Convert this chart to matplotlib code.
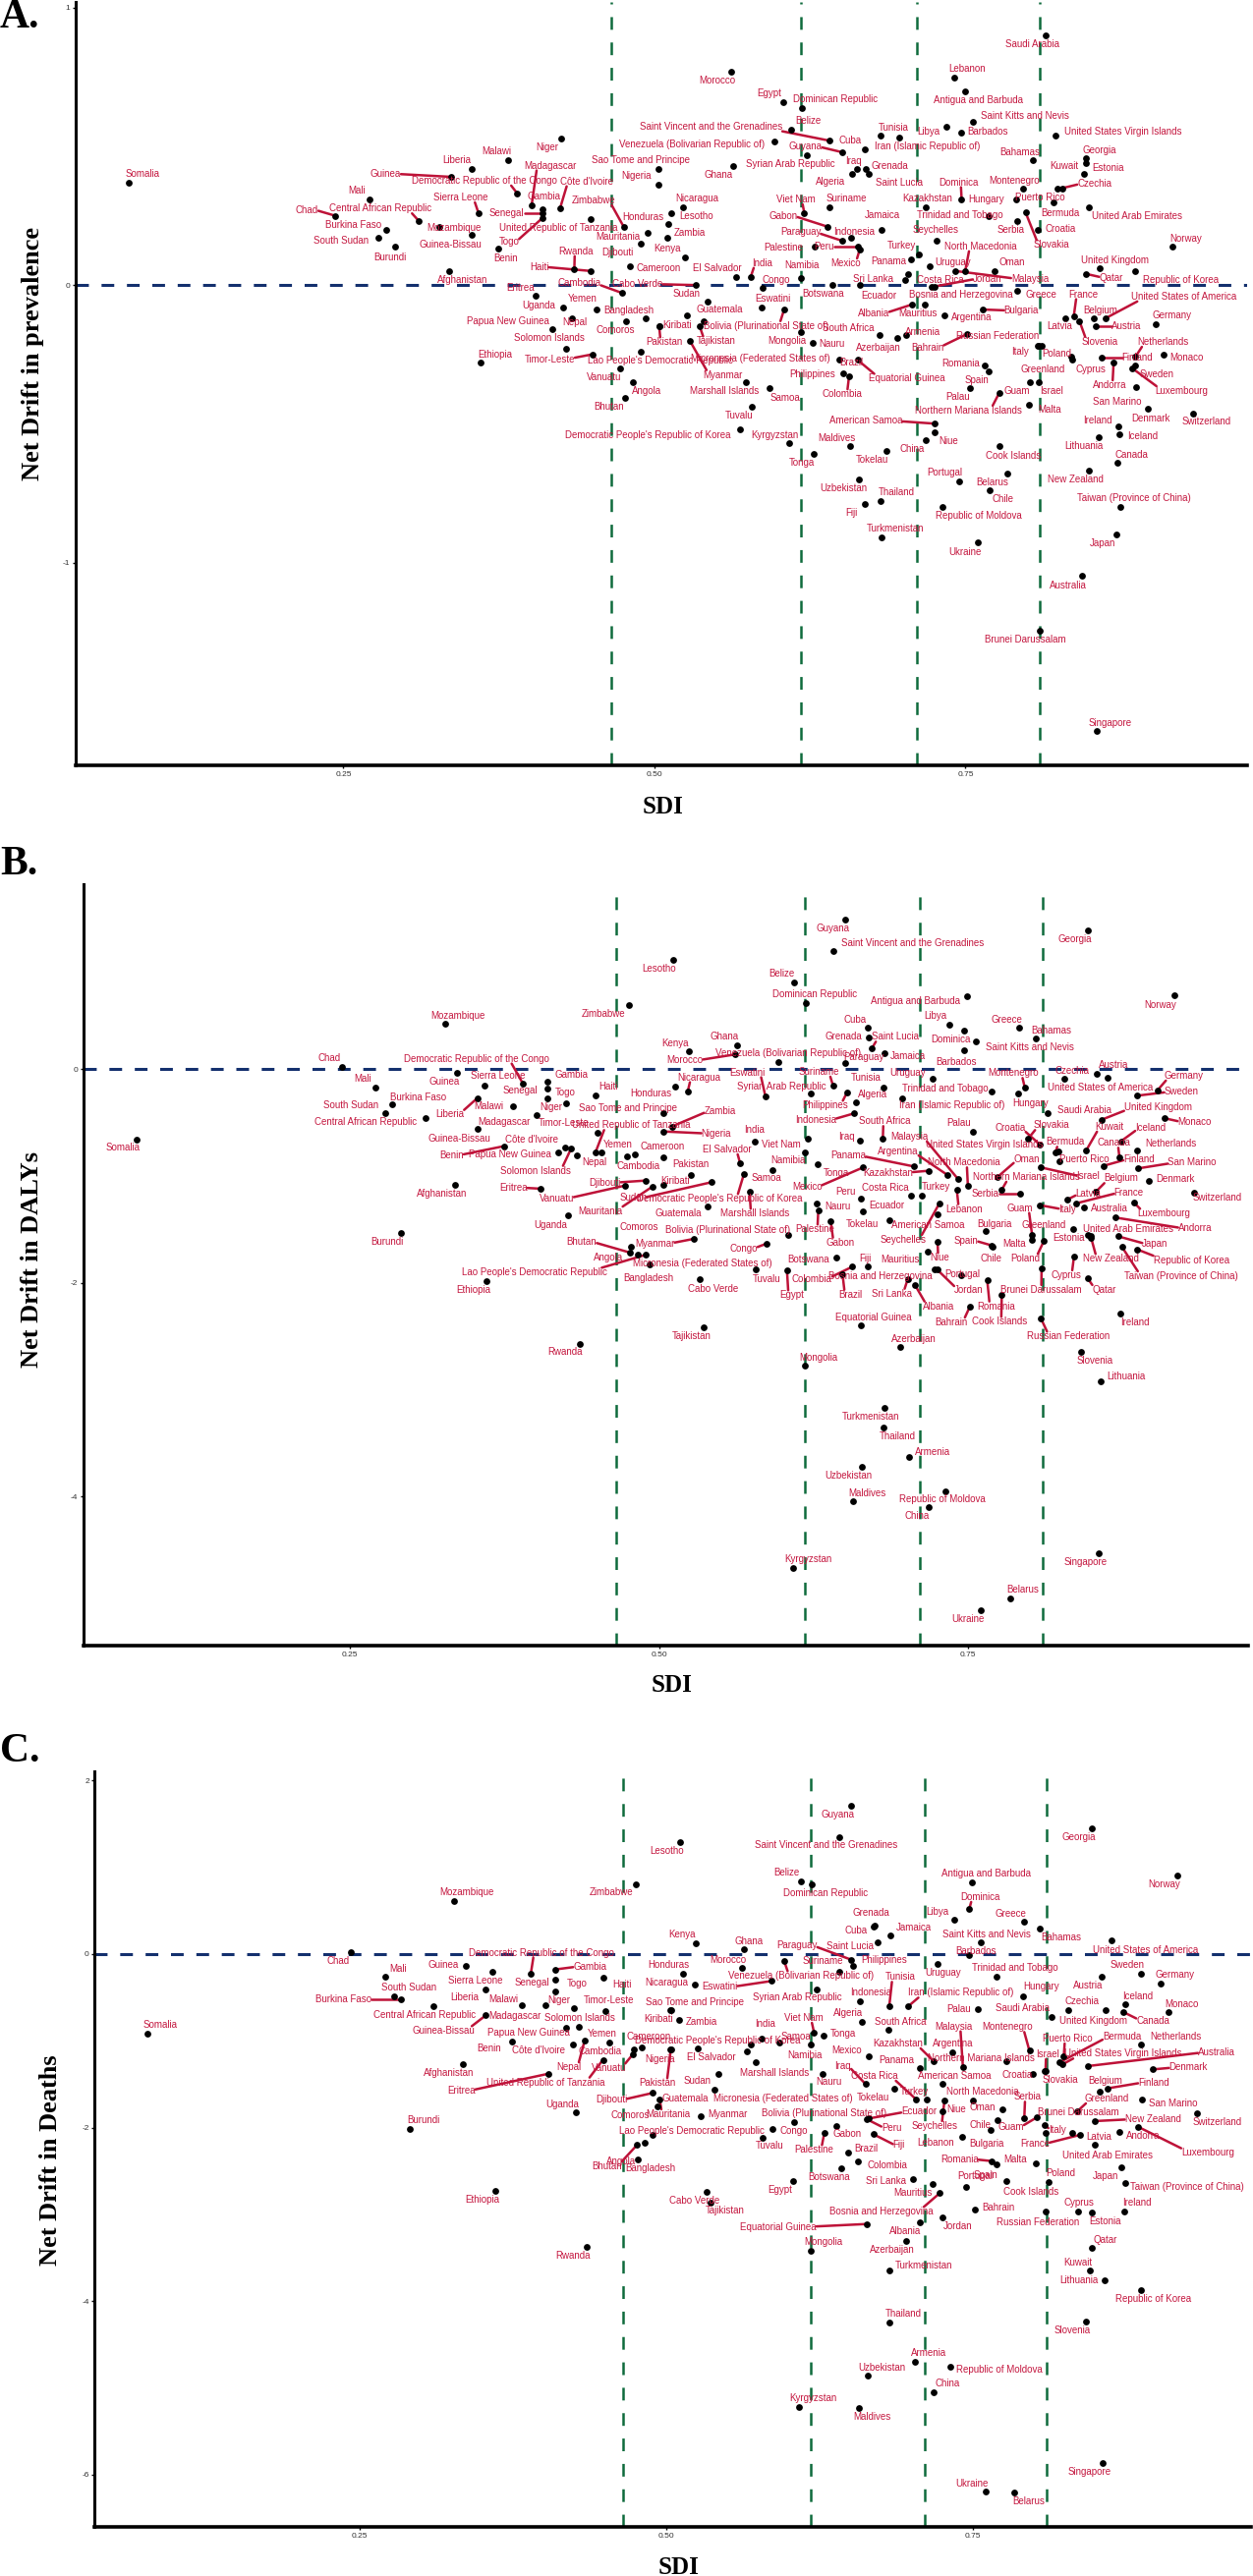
import matplotlib
matplotlib.use("Agg")
import matplotlib.pyplot as plt

COUNTRIES = ["Somalia","Chad","Mali","South Sudan","Burkina Faso","Burundi","Central African Republic","Mozambique","Afghanistan","Guinea",
"Guinea-Bissau","Liberia","Sierra Leone","Ethiopia","Benin","Malawi","Democratic Republic of the Congo","Madagascar","Eritrea","Gambia",
"Senegal","Togo","Papua New Guinea","Côte d'Ivoire","Niger","Uganda","Solomon Islands","Nepal","Rwanda","United Republic of Tanzania",
"Haiti","Timor-Leste","Yemen","Vanuatu","Cambodia","Zimbabwe","Bhutan","Bangladesh","Cameroon","Angola",
"Djibouti","Lao People's Democratic Republic","Comoros","Mauritania","Sao Tome and Principe","Nigeria","Kiribati","Pakistan","Zambia","Lesotho",
"Honduras","Nicaragua","Kenya","Micronesia (Federated States of)","Myanmar","Cabo Verde","Tajikistan","Guatemala","Sudan","Morocco",
"Ghana","El Salvador","Democratic People's Republic of Korea","Marshall Islands","India","Tuvalu","Eswatini","Congo","Samoa","Venezuela (Bolivarian Republic of)",
"Egypt","Bolivia (Plurinational State of)","Kyrgyzstan","Belize","Namibia","Mongolia","Dominican Republic","Viet Nam","Syrian Arab Republic","Nauru",
"Tonga","Palestine","Gabon","Suriname","Saint Vincent and the Grenadines","Botswana","Brazil","Paraguay","Guyana","Philippines",
"Maldives","Colombia","Indonesia","Algeria","Iraq","Equatorial Guinea","Peru","Uzbekistan","Mexico","Ecuador",
"Fiji","Cuba","Grenada","Saint Lucia","South Africa","Thailand","Tunisia","Turkmenistan","Jamaica","Tokelau",
"Azerbaijan","Iran (Islamic Republic of)","Sri Lanka","Armenia","Costa Rica","Panama","Albania","Turkey","Mauritius","Kazakhstan",
"China","Uruguay","Bosnia and Herzegovina","Jordan","American Samoa","Niue","Seychelles","Republic of Moldova","Argentina","Libya",
"Lebanon","Malaysia","Portugal","Barbados","Dominica","North Macedonia","Antigua and Barbuda","Bahrain","Palau","Saint Kitts and Nevis",
"Ukraine","Bulgaria","Romania","Trinidad and Tobago","Spain","Chile","Oman","Cook Islands","Northern Mariana Islands","Belarus",
"Hungary","Greece","Serbia","Montenegro","Slovakia","Malta","Guam","Bahamas","Croatia","Italy",
"Israel","Russian Federation","Brunei Darussalam","Poland","Saudi Arabia","Bermuda","United States Virgin Islands","Puerto Rico","Czechia","Latvia",
"Greenland","Cyprus","France","Slovenia","Australia","Kuwait","Estonia","Qatar","Georgia","United Arab Emirates",
"New Zealand","Belgium","Austria","Singapore","Lithuania","United Kingdom","Finland","United States of America","Andorra","Japan",
"Canada","Ireland","Iceland","Taiwan (Province of China)","Luxembourg","Republic of Korea","Netherlands","Sweden","San Marino","Denmark",
"Germany","Monaco","Norway","Switzerland"]

SDI = [.0775,.2433,.2709,.2783,.2841,.2912,.3108,.3273,.3347,.3365,
.3531,.3531,.3586,.3605,.3744,.3821,.3898,.4013,.4044,.4098,
.4098,.4098,.4182,.4242,.4250,.4263,.4291,.4336,.4356,.4485,
.4485,.4505,.4534,.4727,.4737,.4753,.4765,.4769,.4804,.4826,
.4889,.4889,.4926,.4948,.5032,.5034,.5038,.5038,.5103,.5111,
.5134,.5233,.5245,.5258,.5284,.5332,.5364,.5395,.5425,.5614,
.5632,.5656,.5686,.5732,.5774,.5782,.5860,.5867,.5921,.5962,
.6035,.6043,.6085,.6096,.6180,.6180,.6185,.6205,.6224,.6273,
.6284,.6288,.6388,.6407,.6410,.6430,.6484,.6506,.6506,.6519,
.6572,.6564,.6577,.6592,.6625,.6634,.6634,.6643,.6650,.6651,
.6688,.6689,.6695,.6720,.6810,.6817,.6817,.6822,.6826,.6861,
.6951,.6970,.7012,.7025,.7038,.7063,.7069,.7124,.7172,.7178,
.7182,.7213,.7229,.7250,.7253,.7253,.7267,.7317,.7332,.7345,
.7408,.7417,.7446,.7469,.7469,.7498,.7494,.7514,.7539,.7559,
.7599,.7642,.7654,.7690,.7690,.7696,.7735,.7772,.7772,.7837,
.7905,.7914,.7917,.7959,.7984,.8013,.8017,.8045,.8080,.8080,
.8090,.8090,.8094,.8112,.8141,.8207,.8227,.8239,.8276,.8304,
.8349,.8356,.8371,.8416,.8434,.8455,.8465,.8465,.8471,.8491,
.8491,.8531,.8544,.8557,.8570,.8582,.8594,.8628,.8691,.8711,
.8724,.8730,.8736,.8743,.8842,.8867,.8867,.8867,.8874,.8965,
.9030,.9092,.9165,.9327]

DRIFT_PREVALENCE = [.369,.250,.310,.170,.200,.140,.230,.211,.051,.390,
.181,.419,.259,-.279,.130,.451,.330,.289,-.040,.273,
.258,.241,-.158,.278,.528,-.079,-.230,-.119,.058,.239,
.051,-.249,-.088,-.300,-.028,.210,-.408,-.130,.069,-.349,
.150,-.239,-.119,.190,.419,.360,-.149,-.149,.169,.219,
.259,.280,.100,-.110,-.200,.000,-.149,-.131,-.059,.769,
.428,.030,-.518,-.349,.030,-.439,-.080,-.011,-.370,.519,
.658,-.087,-.568,.559,.027,-.170,.638,.259,.469,-.209,
-.609,.140,.211,.280,.520,.000,-.269,.160,.479,-.318,
-.578,-.329,.170,.399,.420,-.270,.137,-.699,.128,.000,
-.788,.490,.420,.400,-.179,-.779,.539,-.908,.199,-.598,
-.189,.530,.020,-.179,.040,.091,-.070,.110,-.070,.281,
-.559,.069,-.005,-.005,-.499,-.530,.159,-.799,-.109,.570,
.748,.051,-.708,.550,.310,.051,.698,-.176,-.371,.589,
-.927,-.088,-.288,.249,-.309,-.740,.051,-.578,-.388,-.679,
.310,-.019,.229,.349,.261,-.430,-.349,.450,.199,-.218,
-.349,-.218,-1.246,-.218,.898,.298,.539,.349,.349,-.119,
-.258,-.268,-.111,-.129,-1.048,.400,.440,.041,.459,.280,
-.669,-.119,-.149,-1.606,-.549,.060,-.260,-.119,-.279,-.898,
-.639,-.509,-.539,-.799,-.300,.051,-.258,-.290,-.368,-.447,
-.141,-.250,.140,-.463]

DRIFT_DALYS = [-.662,.025,-.172,-.411,-.331,-1.530,-.460,.426,-1.079,-.031,
-.558,-.270,-.150,-1.987,-.721,-.350,-.132,-.432,-1.119,-.117,
-.184,-.273,-.782,-.730,-.322,-1.368,-.739,-.810,-2.576,-.782,
-.242,-.598,-.782,-1.089,-.819,.598,-1.717,-1.665,-.797,-1.739,
-1.043,-1.739,-1.828,-1.098,-.408,-.583,-1.08,-.828,-.537,1.027,
-.159,-.205,.169,-.988,-1.588,-1.966,-2.416,-1.288,-1.058,.138,
.221,-.880,-.984,-1.150,-.675,-1.877,-.251,-1.634,-.941,.067,
-1.886,-1.549,-4.670,.816,-.782,-2.775,.616,-.650,-.230,-1.257,
-.889,-1.325,-1.420,-.153,1.107,-1.766,-1.917,.058,1.404,-.221,
-4.042,-1.849,-.414,-.310,-.672,-2.398,-1.211,-3.726,-.920,-1.334,
-1.849,.389,.300,.193,-.653,-3.352,-.172,-3.174,.147,-1.411,
-2.597,-.273,-1.963,-3.634,-1.181,-.911,-2.018,-1.181,-1.708,-.951,
-4.103,-.092,-1.871,-1.877,-1.358,-1.619,-1.257,-3.953,-.990,.417,
-1.125,-1.027,-1.930,.178,.359,-1.095,.687,-2.223,-.583,.261,
-5.069,-1.518,-1.972,-.212,-1.650,-1.665,-1.012,-2.116,-1.128,-4.953,
-.230,.389,-1.168,-.175,-.653,-1.601,-1.549,.288,-.705,-1.273,
-.920,-2.337,-1.864,-1.610,-.414,-.782,-.767,-.859,-.092,-1.220,
-1.496,-1.754,-1.257,-2.646,-1.294,-.760,-1.550,-1.956,1.303,-1.579,
-1.564,-1.150,-.040,-4.532,-2.922,-.472,-.905,-.080,-1.389,-1.564,
-.828,-2.285,-.675,-1.662,-1.251,-1.687,-.757,-.248,-.929,-1.043,
-.199,-.460,.696,-1.156]

DRIFT_DEATHS = [-.921,.023,-.257,-.483,-.521,-2.020,-.600,.612,-1.268,-.136,
-.706,-.411,-.200,-2.729,-1.012,-.589,-.223,-.589,-1.378,-.177,
-.291,-.427,-.849,-1.038,-.619,-1.820,-.838,-.997,-3.371,-1.219,
-.272,-.661,-1.019,-1.159,-1.095,.800,-2.197,-2.367,-1.072,-2.171,
-1.601,-2.084,-1.752,-1.676,-.649,-1.102,-.649,-1.102,-.755,1.287,
-.223,-.347,.128,-1.083,-1.869,-2.737,-2.862,-1.567,-1.378,-.159,
.060,-1.121,-1.038,-1.246,-.978,-2.122,-.310,-2.020,-1.015,-.083,
-2.620,-1.933,-5.225,.838,-1.046,-3.416,.800,-.906,-.404,-1.378,
-.940,-2.065,-1.978,-.200,1.348,-2.469,-2.291,-.064,1.710,-.140,
-5.232,-2.390,-.540,-.781,-1.499,-3.111,-1.903,-4.862,-1.178,-1.895,
-2.076,.320,.328,.140,-.868,-4.243,-.604,-3.651,.211,-1.548,
-3.311,-.604,-2.590,-4.696,-1.676,-1.317,-3.096,-1.680,-2.650,-1.234,
-5.054,-.109,-2.755,-3.039,-1.499,-1.812,-1.687,-4.753,-1.133,.393,
-2.110,-1.299,-2.688,-.011,.521,-1.687,.830,-2.945,-.638,.140,
-6.191,-2.027,-2.386,-.260,-2.423,-1.914,-1.793,-2.612,-1.234,-6.210,
-.483,.370,-1.895,-1.114,-1.385,-2.408,-1.884,.298,-1.348,-1.971,
-1.348,-2.971,-2.065,-2.627,-.725,-1.246,-1.272,-1.178,-.642,-2.057,
-1.812,-2.971,-2.084,-4.232,-1.291,-3.651,-2.980,-3.382,1.450,-2.197,
-1.925,-1.582,-.260,-5.870,-3.760,-.642,-1.548,.159,-2.054,-2.458,
-.668,-2.971,-.581,-2.642,-1.989,-3.869,-1.046,-.230,-1.680,-1.329,
-.340,-.668,.910,-1.838]

TICKS_X = [0.25, 0.50, 0.75]
TICKS_Y_A = [1, 0, -1]
TICKS_Y_B = [0, -2, -4]
TICKS_Y_C = [2, 0, -2, -4, -6]
SDI_CUTS = [0.465, 0.618, 0.711, 0.810]

# label offsets from each point, in pixels (right, down) -- layout only
OFFSET_A = [(13.5,-9),(-28.6,-6),(-13,-9),(-38,3),(-33,-5),(-5,11),(-39,-13),(15,1),(14,9),(-66.6,-3),
(-22,10),(-15,-9),(-18,-16),(14,-8),(8,10),(-11,-9),(-34,-13),(19,-40),(-15,-8),(2,-13),
(-36,0),(-34,24),(-45,-8),(27,-27),(-14,9),(-24,-2),(-17,-11),(2.5,4),(1.5,-18),(-33,9),
(-52,-4),(-44,5),(-14,-11),(-17,9),(-43,-10),(-30.6,-27),(-17,9),(3,-11),(29,2),(14,9),
(-24,9),(20,9),(-30,12),(-31,4),(-18,-9),(-23,-9),(18,-1),(5,16),(23,-5),(29,-8),
(-29,4),(14,-9),(-18,-9),(75,44),(34,35),(-59,-1),(17,15),(16,-12),(-21,-8),(-14,9),
(-14.6,9),(-19,-9),(-94,6),(-21,9),(12,-14),(-13,9),(12,-9),(14,-8),(16.6,10),(-84,3),
(-14,-9),(-18,17),(-15,-8),(18,-9),(1,-13),(-15,9),(34,-9),(-9,-14),(-17,9),(19,1),
(-13,9),(-32,1),(-44.6,-11),(17,-9),(-121,-14),(-9,9),(13,3),(-42,-9),(-37,-6),(-32,1),
(-14,-8),(-7,18),(4,-6),(-22,8),(-3,-8),(50,19),(-34,0),(-15.5,9),(-14,14),(19,11),
(-13,9),(-14.6,-9),(25,-3),(31,9),(-32,-7),(16,-9),(13,-8),(14,-9),(1,-15),(-14,9),
(-19,10),(28,9),(-32,-1),(17,-3),(33,6),(-23,2),(-39,9),(-17.5,-9),(-7,9),(2,-9),
(-14,9),(23,-4),(30,8),(54,-8),(-70,-3),(14,9),(-1,-11),(37,9),(28,2),(-18,5),
(13,-9),(76,8),(-14,-9),(27,-1),(-3,-17),(16,-25),(14,9),(-40.5,14),(-13,9),(53,-6),
(-13,10),(39,1),(-24,-2),(-30,-1),(-13,9),(13,9),(18,-9),(14,10),(-31,18),(-15,9),
(-30,0),(25,4),(-6.5,9),(-8.5,-8),(26,33),(21,5),(-13.4,9),(-14,-8),(23,-1),(-17.5,6),
(13,9),(-42,-10),(-14,9),(15,8),(-13,9),(7,11),(68,-4),(-18,9),(33,-5),(-6,8),
(-29,13),(19,10),(10,-22),(20.6,21),(-14,10),(-20,-8),(23,5),(26,4),(13,-8),(49,9),
(-13,9),(7,-8),(32,0),(13,-8),(-15,9),(15.5,-8),(36.5,0),(79,-22),(-4,23),(-14,9),
(14,-8),(-21,-6),(24,2),(14,-9),(50,23),(46,9),(28,-15),(22,9),(-20,15),(3.5,9.6),
(16,-9),(24,3),(13,-8),(14,8)]

OFFSET_B = [(-13.5,8),(-13,-9),(-13,-9),(-35,-8),(27,-7),(-14,9),(-60,4),(13,-8),(-13,9),(-13,9),
(-18,10),(-28,16),(14,-10),(-13,9),(-53,9),(-25,0),(-47,-25),(-33,7),(-28,-1),(24,-7),
(-28,2),(18,-6),(-49,2),(-34,-8),(-15,4),(-18,10),(-36,23),(18,7),(-15,8),(36,-28),
(13,-9),(-35,-10),(17,-8),(-70,13),(12.5,10),(-25,9),(-49,-11),(18,32),(28,-8),(-30,3),
(-41,2),(-113,18),(-11,-38),(-53,25),(-36,-5),(54,2),(12,-4),(28,7),(49,-16),(-14,9),
(-25,7),(11,-14),(-14,-8),(12,90),(-40,5),(13,10),(-13,9),(-30,7),(-80,16),(-51,6),
(-13,-9),(-13,-14),(-25,25),(5,22),(0,-12),(11,10),(-18,-24),(-23,5),(-7,8),(10,-9),
(5,25),(-61,-5),(15,-9),(-13,-9),(-17,8),(14,-8),(9,-9),(-27,6),(-29,-7),(22,3),
(19,9),(-3,19),(10,22),(-14,-14),(81,-8),(-28,2),(8,21),(19,-6),(-13,9),(-22,13),
(14,-8),(-41,13),(-39,7),(17,-8),(-14,-4),(13,-8),(-16,-7),(-14,9),(-57,20),(24,-6),
(-3,-8),(-13,-8),(-25,-1),(24,-12),(2,-18),(14,9),(-18,-10),(-14,9),(24,3),(-27,4),
(14,-8),(50,7),(-16,15),(24,-5),(-26,-8),(-67,-11),(24,22),(15,-9),(-28,8),(-41,2),
(-12,9),(-25,-6),(-55,7),(32,21),(-10,11),(2,16),(-37,37),(-3,8),(-50,-24),(-14,-9),
(7,20),(-49,-43),(1,-1),(-8,12),(-14,9),(-4,-24),(-53,5),(-19,16),(-14,-9),(55,6),
(-13,9),(9,-7),(9,27),(-47,-3),(-26,-5),(-1,12),(30,-18),(-2,27),(25,-13),(13,-9),
(12,10),(-13,-8),(-35,0),(-12,-15),(24,-14),(-18,4),(-12,-27),(16,-8),(-30,-17),(28,4),
(48,9),(28,18),(-1,22),(-19,18),(38,-3),(10,-11),(-75,-7),(25,-2),(8,-8),(21,-6),
(-30,-4),(-8,19),(54,-11),(14,9),(26,1),(24,-24),(-19,3),(17,12),(-14,9),(38,-9),
(21,23),(26,-14),(17,-9),(-14,9),(26,-5),(57,-13),(36,-7),(-7,10),(81,11),(38,8),
(-6,-15),(15,9),(30,-14),(60,30),(30,11),(55,11),(34,-7),(45,-4),(55,-6),(26,-2),
(27,-15),(30,4),(-14,10),(24,5)]

OFFSET_C = [(13,-9),(-13,9),(13,-8),(15,-9),(-59,0),(14,-9),(-9,9),(13,-9),(-15,9),(-22,-1),
(-43,16),(-22,8),(-17,9),(-13,9),(-23,7),(-18,-6),(11,-21),(-31,11),(-89,17),(35,-3),
(-24,3),(22,-8),(-38,5),(-35,6),(-15,-8),(-14,-8),(1,-9),(-16,27),(-14,9),(-58,23),
(19,7),(4,-11),(-7,-9),(-24,14),(-34,2),(-25,8),(-31,22),(13,9),(7,-11),(-24,19),
(-42,7),(40,-4),(-27,9),(8,15),(25,-8),(-11,10),(-13,9),(-14,34),(23,2),(-13,9),
(-14,-9),(-29,-2),(-14,-9),(87,51),(27,-2),(-13,9),(14,8),(-30,9),(-21,7),(-14,-8),
(5,-8),(-36,6),(-33,-4),(19,11),(4,-15),(8,8),(-53,6),(22,2),(17,-6),(17,15),
(-13,9),(30,-9),(14,-9),(-14,-9),(-6,11),(13,-9),(14,9),(-11,-15),(-19,8),(6,8),
(20,-2),(-11,17),(11,8),(-16,-11),(-13,8),(-13,9),(18,-4),(-55,-15),(-13,9),(32,-6),
(13,9),(30,4),(11,-9),(-14,-9),(-23,-18),(-90,3),(25,9),(14,-8),(-22,-6),(51,-7),
(26,11),(-18,4),(-3,-13),(-28,4),(12,-8),(14,-9),(11,-30),(35,-5),(24,-8),(-22,9),
(-14,9),(54,-14),(-28,2),(14,-9),(-43,-24),(-23,-8),(-15,9),(-13,-8),(-20,9),(-36,-18),
(14,-9),(5,9),(-59,19),(16,9),(12,-8),(14,-2),(-10,26),(50,3),(1,-9),(-17,-8),
(-27,6),(-9,-41),(9,-11),(7,-4),(11,-12),(10,-9),(14,-9),(24,-2),(-19,0),(6,-8),
(-14,-8),(-4,14),(-33,-2),(19,-9),(-11,11),(-17,5),(-20,-2),(25,11),(-26,-3),(14,9),
(19,-10),(-13,-8),(3,-22),(-22,-24),(28,6),(-21,-4),(-26,10),(22,9),(-27,4),(13,5),
(2,-17),(-8,11),(33,-21),(13,-9),(-30,-9),(63,-26),(62,-11),(4,-18),(14,-9),(28,4),
(30,-13),(1,-9),(-46,9),(-13,9),(131,-14),(-13,-8),(14,9),(14,-8),(-14,9),(13,11),
(59,-2),(6,-11),(-13,9),(-14,9),(-26,0),(-13,11),(47,-6),(35,10),(24,4),(-16,9),
(30,9),(13,-9),(13,-8),(62,4),(71,26),(13,9),(35,-8),(-14,-9),(32,4),(36,-2),
(14,-9),(13,-8),(-14,9),(20,9)]

LINKED_A = ["Guinea","Democratic Republic of the Congo","Madagascar","Côte d'Ivoire","Sierra Leone","Chad","Central African Republic","Senegal","Togo","Zimbabwe","Haiti","Rwanda","Cambodia","Timor-Leste","Cabo Verde","India","Saint Vincent and the Grenadines","Guyana","Dominica","Viet Nam","Gabon","Paraguay","Peru","Mexico","Czechia","Slovakia","North Macedonia","Malaysia","Jordan","Qatar","United States of America","France","Slovenia","Austria","Albania","Bulgaria","Bahrain","Bolivia (Plurinational State of)","Tajikistan","Pakistan","Myanmar","Equatorial Guinea","Colombia","Netherlands","Finland","Andorra","Luxembourg","Northern Mariana Islands","American Samoa"]
LINKED_B = ["Democratic Republic of the Congo","Liberia","Benin","Solomon Islands","Eritrea","Vanuatu","United Republic of Tanzania","Mauritania","Djibouti","Bhutan","Lao People's Democratic Republic","Sudan","Morocco","Saint Lucia","Eswatini","Nicaragua","Suriname","Philippines","Indonesia","Zambia","Nigeria","El Salvador","Congo","Egypt","Myanmar","Democratic People's Republic of Korea","Marshall Islands","Colombia","Brazil","Gabon","Palestine","Mexico","Panama","Argentina","Malaysia","South Africa","North Macedonia","Kazakhstan","Lebanon","Seychelles","Niue","Sri Lanka","Albania","Jordan","Romania","Bahrain","Cook Islands","Brunei Darussalam","Russian Federation","Montenegro","Germany","Sweden","United Kingdom","Monaco","Kuwait","Iceland","Canada","Slovakia","Croatia","Bermuda","Finland","San Marino","Israel","Northern Mariana Islands","Serbia","Oman","Belgium","France","Italy","Guam","Poland","Spain","New Zealand","Andorra","Japan","Republic of Korea","Taiwan (Province of China)","Luxembourg","Cyprus","Qatar","Latvia"]
LINKED_C = ["Democratic Republic of the Congo","Gambia","Burkina Faso","Guinea-Bissau","Nepal","United Republic of Tanzania","Eritrea","Pakistan","Mauritania","Eswatini","Venezuela (Bolivarian Republic of)","Paraguay","Tunisia","Iran (Islamic Republic of)","Viet Nam","Iraq","Costa Rica","Kazakhstan","Malaysia","Montenegro","Puerto Rico","Bermuda","United States Virgin Islands","Australia","Denmark","Finland","Greenland","New Zealand","Guam","France","Luxembourg","Peru","Ecuador","Palestine","Fiji","Seychelles","Romania","Equatorial Guinea","Bosnia and Herzegovina","Canada","Dominica","Bhutan","Djibouti","Vanuatu","Israel","Italy","Serbia"]

W, H = 1275, 2622
RED = "#C4173F"
plt.rcParams["lines.scale_dashes"] = False
fig = plt.figure(figsize=(W / 100, H / 100), dpi=100)
renderer = fig.canvas.get_renderer()
px = 0.72


def clip_to_box(p, t, bb):
    """Point where the segment p -> t first enters the text box bb."""
    best = 1.0
    for edge, a, b in ((bb.x0, p[0], t[0]), (bb.x1, p[0], t[0]), (bb.y0, p[1], t[1]), (bb.y1, p[1], t[1])):
        if abs(b - a) < 1e-9:
            continue
        f = (edge - a) / (b - a)
        if 0 <= f <= best:
            qx, qy = p[0] + f * (t[0] - p[0]), p[1] + f * (t[1] - p[1])
            if bb.x0 - 0.01 <= qx <= bb.x1 + 0.01 and bb.y0 - 0.01 <= qy <= bb.y1 + 0.01:
                best = f
    return p[0] + best * (t[0] - p[0]), p[1] + best * (t[1] - p[1])


def panel(rect, ylim, yticks, drift, offsets, linked, letter, letter_y, ylabel, ylab_xy, xlab_xy, tick_pad):
    left, right, top, bottom = rect
    ax = fig.add_axes([left / W, 1 - bottom / H, (right - left) / W, (bottom - top) / H])
    ax.set_xlim(0.0345, 0.9764)
    ax.set_ylim(*ylim)
    for s in ("top", "right"):
        ax.spines[s].set_visible(False)
    ax.spines["left"].set_linewidth(2.2)
    ax.spines["bottom"].set_linewidth(2.6)
    ax.set_xticks(TICKS_X, [f"{t:.2f}" for t in TICKS_X], fontname="Liberation Sans")
    ax.set_yticks(yticks, [str(t) for t in yticks], fontname="Liberation Sans")
    ax.tick_params(axis="both", length=2, width=1, labelsize=6, labelcolor="#333333", pad=tick_pad)
    for c in SDI_CUTS:
        ax.axvline(c, color="#0E6B3C", lw=1.8, ls=(0, (9.3, 9.3)), zorder=1)
    ax.axhline(0, color="#14306E", lw=2.2, ls=(0, (9.3, 9.3)), zorder=1)
    ax.scatter(SDI, drift, s=24, color="black", linewidths=0, zorder=3)
    texts = []
    for name, x, y, (dx, dy) in zip(COUNTRIES, SDI, drift, offsets):
        t = ax.annotate(name, (x, y), xytext=(dx * px, -dy * px), textcoords="offset points",
                        ha="center", va="center", fontsize=7.0, color=RED,
                        fontname="Liberation Sans", zorder=4)
        texts.append((name, x, y, t))
    for name, x, y, t in texts:
        if name not in linked:
            continue
        bb = t.get_window_extent(renderer)
        p = ax.transData.transform((x, y))
        cx, cy = (bb.x0 + bb.x1) / 2, (bb.y0 + bb.y1) / 2
        nx = min(max(p[0], bb.x0), bb.x1)
        target = (cx + 0.7 * (nx - cx), cy)
        qx, qy = clip_to_box(p, target, bb)
        q = ax.transData.inverted().transform((qx, qy))
        ax.plot([x, q[0]], [y, q[1]], color="#BE1238", lw=1.8, solid_capstyle="round", zorder=2)
    fig.text(xlab_xy[0] / W, 1 - xlab_xy[1] / H, "SDI", ha="center", va="center", fontsize=18,
             fontname="Liberation Serif", fontweight="bold")
    fig.text(ylab_xy[0] / W, 1 - ylab_xy[1] / H, ylabel, rotation=90, ha="center", va="center", fontsize=19,
             fontname="Liberation Serif", fontweight="bold")
    fig.text(0.0, 1 - letter_y / H, letter, ha="left", va="center", fontsize=30,
             fontname="Liberation Serif", fontweight="bold")
    return ax


assert len(COUNTRIES) == len(SDI) == len(DRIFT_PREVALENCE) == len(DRIFT_DALYS) == len(DRIFT_DEATHS) == len(OFFSET_A) == len(OFFSET_B) == len(OFFSET_C)

panel((76.7, 1269, 2, 779), (-1.73, 1.02), TICKS_Y_A, DRIFT_PREVALENCE, OFFSET_A, LINKED_A,
      "A.", 18, "Net Drift in prevalence", (34, 360), (675, 822), 2)
panel((84.9, 1270, 900, 1675), (-5.397, 1.732), TICKS_Y_B, DRIFT_DALYS, OFFSET_B, LINKED_B,
      "B.", 880, "Net Drift in DALYs", (33, 1282), (684, 1715), 2)
panel((96.3, 1273, 1803, 2572), (-6.602, 2.106), TICKS_Y_C, DRIFT_DEATHS, OFFSET_C, LINKED_C,
      "C.", 1783, "Net Drift in Deaths", (52, 2199), (691, 2613), 2)

fig.savefig("out.png", dpi=100, facecolor="white")
